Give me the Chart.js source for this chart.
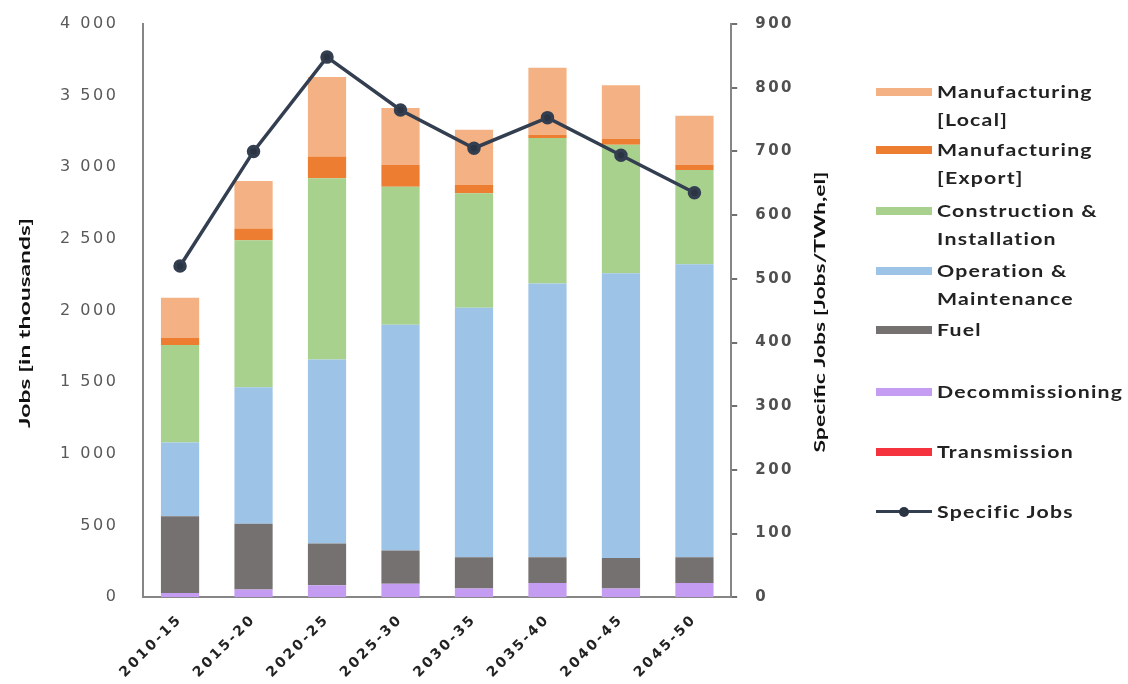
<!DOCTYPE html>
<html>
<head>
<meta charset="utf-8">
<script src="https://cdn.jsdelivr.net/npm/chart.js@4.4.1/dist/chart.umd.min.js"></script>
<style>
  body { margin: 0; background: #fff; }
  #wrap { position: relative; width: 1128px; height: 684px; }
  #legend { position: absolute; left: 876px; top: 0; font-family: Lato, "Noto Sans", sans-serif; font-weight: bold; font-size: 17px; color: #222; letter-spacing: 1px; }
  .item { position: absolute; left: 0; white-space: nowrap; }
  .sw { position: absolute; left: 0; width: 56px; height: 8px; }
  .txt { position: absolute; left: 61px; line-height: 28px; transform: scaleX(1.25); transform-origin: left center; }
</style>
</head>
<body>
<div id="wrap">
  <canvas id="chart" width="1128" height="684"></canvas>
  <div id="legend"></div>
</div>
<script>
// периоды
const periods = ['2010-15', '2015-20', '2020-25', '2025-30', '2030-35', '2035-40', '2040-45', '2045-50'];

// рабочие места, тыс.
const decommissioning = [30, 55, 84, 95, 61, 100, 61, 100];
const fuel = [535, 458, 292, 232, 219, 180, 214, 180];
const operation = [515, 952, 1283, 1575, 1740, 1910, 1986, 2044];
const construction = [680, 1027, 1265, 963, 799, 1014, 896, 658];
const manufExport = [50, 82, 151, 152, 58, 23, 40, 35];
const manufLocal = [280, 331, 556, 397, 385, 467, 375, 343];
const transmission = [0, 0, 0, 0, 0, 0, 0, 0];

// удельные рабочие места, Jobs/TWh,el
const specificJobs = [520, 700, 848, 765, 705, 753, 694, 635];

const barSeries = [
    { label: 'Decommissioning', data: decommissioning, color: '#C49CF2' },
    { label: 'Fuel', data: fuel, color: '#767171' },
    { label: 'Operation & Maintenance', data: operation, color: '#9DC3E6' },
    { label: 'Construction & Installation', data: construction, color: '#A9D18E' },
    { label: 'Manufacturing [Export]', data: manufExport, color: '#ED7D31' },
    { label: 'Manufacturing [Local]', data: manufLocal, color: '#F4B183' },
    { label: 'Transmission', data: transmission, color: '#F5333F' }
];

const datasets = barSeries.map(s => ({
    type: 'bar',
    label: s.label,
    data: s.data,
    backgroundColor: s.color,
    yAxisID: 'y',
    order: 1,
    barPercentage: 0.52,
    categoryPercentage: 1
}));

datasets.push({
    type: 'line',
    label: 'Specific Jobs',
    data: specificJobs,
    borderColor: '#333F50',
    backgroundColor: '#333F50',
    borderWidth: 3.5,
    pointRadius: 5,
    pointBackgroundColor: '#2B3442',
    yAxisID: 'y2',
    order: 0
});

const fmt = v => String(v).replace(/\B(?=(\d{3})+(?!\d))/g, ' ');

// вертикальный заголовок оси, растянутый до нужной длины
function axisTitle(ctx, text, x, y, len) {
    ctx.save();
    ctx.fillStyle = '#111';
    ctx.textAlign = 'center';
    ctx.textBaseline = 'middle';
    ctx.letterSpacing = '0px';
    ctx.font = 'bold 16px Lato';
    const w = ctx.measureText(text).width;
    ctx.translate(x, y);
    ctx.rotate(-Math.PI / 2);
    ctx.scale(len / w, 1);
    ctx.fillText(text, 0, 0);
    ctx.restore();
}

// подписи делений шире, как на оригинале; заголовки осей рисуем сами (обе читаются снизу вверх)
const textPlugin = {
    id: 'textPlugin',
    beforeLayout(chart) { chart.ctx.letterSpacing = '2.5px'; },
    afterLayout(chart) { chart.ctx.letterSpacing = '0px'; },
    beforeDraw(chart) { chart.ctx.letterSpacing = '0px'; },
    afterDatasetsDraw(chart) { chart.ctx.letterSpacing = '2.5px'; },
    afterDraw(chart) {
        axisTitle(chart.ctx, 'Jobs [in thousands]', 25, 323, 210);
        axisTitle(chart.ctx, 'Specific Jobs [Jobs/TWh,el]', 820, 312, 281);
    }
};

const noPad = scale => { scale.paddingTop = 0; scale.paddingBottom = 0; };

new Chart(document.getElementById('chart'), {
    data: { labels: periods, datasets: datasets },
    plugins: [textPlugin],
    options: {
        responsive: false,
        animation: false,
        layout: { padding: { left: 35, right: 316, top: 24, bottom: -3 } },
        plugins: { legend: { display: false }, tooltip: { enabled: false } },
        scales: {
            x: {
                stacked: true,
                grid: { display: false },
                border: { color: '#868686', width: 2 },
                ticks: { z: 1, color: '#222', font: { family: 'DejaVu Sans', size: 14, weight: 'bold' }, maxRotation: 45, minRotation: 45, padding: 6 }
            },
            y: {
                stacked: true,
                position: 'left',
                min: 0, max: 4000,
                afterFit: noPad,
                grid: { display: false, drawTicks: false },
                border: { color: '#868686', width: 2 },
                ticks: { z: 1, stepSize: 500, callback: fmt, color: '#595959', font: { family: 'DejaVu Sans', size: 16 }, padding: 25 }
            },
            y2: {
                position: 'right',
                min: 0, max: 900,
                afterFit: noPad,
                grid: { drawOnChartArea: false, tickLength: 6, color: '#707070', lineWidth: 2 },
                border: { color: '#868686', width: 2 },
                ticks: { z: 1, stepSize: 100, color: '#505050', font: { family: 'DejaVu Sans', size: 15, weight: 'bold' }, padding: 18 }
            }
        }
    }
});

// легенда справа, в порядке как на оригинале
const legendRows = [
    { lines: ['Manufacturing', '[Local]'], color: '#F4B183', y: 92 },
    { lines: ['Manufacturing', '[Export]'], color: '#ED7D31', y: 150 },
    { lines: ['Construction &', 'Installation'], color: '#A9D18E', y: 211 },
    { lines: ['Operation &', 'Maintenance'], color: '#9DC3E6', y: 271 },
    { lines: ['Fuel'], color: '#767171', y: 330 },
    { lines: ['Decommissioning'], color: '#C49CF2', y: 392 },
    { lines: ['Transmission'], color: '#F5333F', y: 452 },
    { lines: ['Specific Jobs'], color: null, y: 512 }
];

const legend = document.getElementById('legend');
legendRows.forEach(r => {
    const item = document.createElement('div');
    item.className = 'item';
    item.style.top = r.y + 'px';
    if (r.color) {
        const sw = document.createElement('div');
        sw.className = 'sw';
        sw.style.top = '-4px';
        sw.style.background = r.color;
        item.appendChild(sw);
    } else {
        const ln = document.createElement('div');
        ln.style.cssText = 'position:absolute;left:0;top:-2px;width:56px;height:3px;background:#333F50';
        const dot = document.createElement('div');
        dot.style.cssText = 'position:absolute;left:23px;top:-5px;width:10px;height:10px;border-radius:50%;background:#2B3442';
        item.appendChild(ln);
        item.appendChild(dot);
    }
    const txt = document.createElement('div');
    txt.className = 'txt';
    txt.style.top = '-14px';
    txt.innerHTML = r.lines.map(l => l.replace(/&/g, '&amp;')).join('<br>');
    item.appendChild(txt);
    legend.appendChild(item);
});
</script>
</body>
</html>
